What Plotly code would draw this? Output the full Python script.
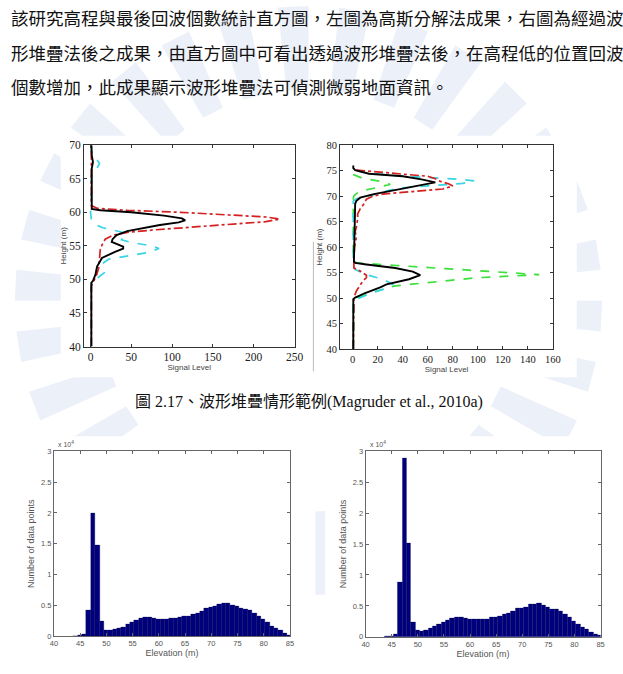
import math
import plotly.graph_objects as go

W, H = 623, 674

# ---------------- text ----------------
para_lines = [
    "該研究高程與最後回波個數統計直方圖，左圖為高斯分解法成果，右圖為經過波",
    "形堆疊法後之成果，由直方圖中可看出透過波形堆疊法後，在高程低的位置回波",
    "個數增加，此成果顯示波形堆疊法可偵測微弱地面資訊。",
]
caption = "圖 2.17、波形堆疊情形範例(Magruder et al., 2010a)"

# ---------------- left waveform plot ----------------
black_L_h = [40, 49.5, 49.8, 50.7, 51.9, 53.2, 54.1, 54.6, 54.9, 55.3, 55.6, 56.0, 56.6, 57.2, 57.6, 58.1, 58.5, 58.8, 59.1, 59.5, 60.0, 60.3, 60.5, 66.5, 67.5, 68.5, 70]
black_L_s = [1, 1, 3, 6, 8, 14, 30, 40, 40, 32, 26, 27, 32, 45, 62, 85, 108, 116, 112, 90, 50, 12, 1.5, 1.5, 3, 1.5, 1]

red_L_h = [40, 49.0, 49.8, 50.5, 51.7, 53.0, 54.5, 55.1, 56.0, 56.6, 57.0, 57.4, 57.8, 58.2, 58.6, 59.0, 59.3, 59.6, 60.0, 60.3, 60.6, 61, 70]
red_L_s = [1, 1, 4, 7, 10, 11, 12, 14, 18, 28, 45, 80, 125, 175, 215, 232, 215, 170, 110, 45, 8, 1, 1]

cyan_L_h = [40, 49.5, 49.7, 50.0, 51.0, 51.7, 52.4, 53.0, 53.5, 54.0, 54.6, 55.0, 55.5, 55.9, 56.3, 56.6, 57.0, 57.3, 57.7, 58.1, 58.5, 59.0, 60.0, 60.5, 65.4, 66.2, 66.8, 67.3, 67.8, 68.3, 70]
cyan_L_s = [1, 1, 2, 6, 17, 16, 15, 22, 45, 70, 84, 75, 50, 38, 40, 44, 40, 30, 15, 7, 3, 1, 0, 1, 1, 4, 9, 11, 8, 2, 1]

# ---------------- right waveform plot ----------------
black_R_h = [40, 49.8, 50.1, 51.0, 52.1, 52.7, 53.7, 54.5, 55.2, 55.9, 56.6, 56.9, 57.2, 62, 68.5, 69.1, 69.7, 70.4, 71.3, 72.0, 72.7, 73.3, 73.9, 74.4, 75.1, 75.5, 76]
black_R_s = [0.5, 0.5, 2, 10, 22, 27, 45, 54, 48, 34, 11, 2, 1, 1.5, 2, 3, 6, 17, 37, 50, 66, 55, 40, 13, 2, 0.5, 0.5]

red_R_h = [40, 49.5, 50.1, 51.4, 52.4, 53.3, 54.0, 54.5, 55.3, 55.9, 57, 60, 62, 63, 64, 65.5, 66.5, 67.5, 68.5, 69.4, 70.0, 70.4, 70.9, 71.4, 72.0, 72.4, 72.9, 73.4, 73.9, 74.5, 75.1, 75.5]
red_R_s = [0.5, 0.5, 1, 3, 6, 8, 11, 11, 6, 1, 1, 1.5, 3, 2, 3, 4, 4, 6, 9, 11, 16, 24, 48, 72, 80, 77, 70, 66, 60, 28, 3, 0.5]

cyan_R_h = [40, 49.5, 50.0, 51.0, 52.0, 52.7, 53.2, 53.7, 54.6, 55.6, 56.2, 69.0, 69.5, 70.0, 70.5, 71.0, 71.6, 72.0, 72.5, 73.0, 73.3, 73.6, 74.0, 74.5, 75.0, 75.4]
cyan_R_s = [0.5, 0.5, 5, 15, 28, 32, 28, 24, 11, 2, 0.5, 0.5, 3, 12, 20, 27, 37, 60, 88, 97, 85, 65, 35, 12, 3, 0.5]

green_R_h = [40, 49.5, 49.8, 50.5, 51.3, 52.4, 53.2, 54.0, 54.6, 55.0, 55.5, 55.9, 56.4, 56.9, 57.3, 69.5, 70.06, 70.5, 71.0, 71.6, 72.3, 72.9, 73.5, 74.2, 74.6]
green_R_s = [0.5, 0.5, 1, 8, 18, 34, 65, 99, 149, 125, 95, 73, 35, 3, 0.5, 0.5, 1, 3, 6, 18, 30, 22, 8, 1, 0.5]

# ---------------- histograms (x 10^4 points) ----------------
elev_bins = [44.12, 44.95, 45.78, 46.61, 47.44, 48.28, 49.11, 49.94, 50.77, 51.60,
             52.43, 53.27, 54.10, 54.93, 55.76, 56.59, 57.42, 58.26, 59.09, 59.92,
             60.75, 61.58, 62.41, 63.25, 64.08, 64.91, 65.74, 66.57, 67.40, 68.24,
             69.07, 69.90, 70.73, 71.56, 72.39, 73.23, 74.06, 74.89, 75.72, 76.55,
             77.38, 78.22, 79.05, 79.88, 80.71, 81.54, 82.37, 83.21, 84.04, 84.87]
hist_gauss = [0.005, 0.01, 0.03, 0.42, 2.00, 1.48, 0.25, 0.10, 0.09, 0.11,
              0.13, 0.15, 0.19, 0.22, 0.26, 0.30, 0.31, 0.31, 0.30, 0.28,
              0.28, 0.28, 0.29, 0.29, 0.31, 0.33, 0.33, 0.36, 0.38, 0.41,
              0.45, 0.47, 0.48, 0.52, 0.53, 0.53, 0.51, 0.49, 0.45, 0.44,
              0.42, 0.38, 0.33, 0.27, 0.22, 0.17, 0.13, 0.09, 0.05, 0.02]
hist_stack = [0.005, 0.01, 0.04, 0.88, 2.88, 1.52, 0.24, 0.10, 0.09, 0.11,
              0.14, 0.17, 0.20, 0.23, 0.27, 0.30, 0.31, 0.31, 0.30, 0.28,
              0.28, 0.28, 0.28, 0.29, 0.31, 0.32, 0.33, 0.36, 0.38, 0.42,
              0.46, 0.47, 0.48, 0.52, 0.52, 0.54, 0.51, 0.48, 0.45, 0.44,
              0.41, 0.36, 0.31, 0.26, 0.21, 0.16, 0.12, 0.08, 0.04, 0.02]
bin_width = 0.832

line_ticks_L = [0, 50, 100, 150, 200, 250]
line_ticks_R = [0, 20, 40, 60, 80, 100, 120, 140, 160]
elev_ticks = [40, 45, 50, 55, 60, 65, 70, 75, 80, 85]
count_ticks = [0, 0.5, 1, 1.5, 2, 2.5, 3]
count_ticktext = ["0", "0.5", "1", "1.5", "2", "2.5", "3"]


def px(x):
    return x / W


def py(y):
    return 1 - y / H


fig = go.Figure()

RED = "#D42020"
CYAN = "#38D4E4"
GREEN = "#3CE03C"

# left waveform
fig.add_trace(go.Scatter(x=cyan_L_s, y=cyan_L_h, mode="lines", line=dict(color=CYAN, width=1.7, dash="dash"), xaxis="x", yaxis="y"))
fig.add_trace(go.Scatter(x=red_L_s, y=red_L_h, mode="lines", line=dict(color=RED, width=1.7, dash="dashdot"), xaxis="x", yaxis="y"))
fig.add_trace(go.Scatter(x=black_L_s, y=black_L_h, mode="lines", line=dict(color="black", width=1.9), xaxis="x", yaxis="y"))

# right waveform
fig.add_trace(go.Scatter(x=green_R_s, y=green_R_h, mode="lines", line=dict(color=GREEN, width=1.7, dash="dash"), xaxis="x2", yaxis="y2"))
fig.add_trace(go.Scatter(x=cyan_R_s, y=cyan_R_h, mode="lines", line=dict(color=CYAN, width=1.7, dash="dash"), xaxis="x2", yaxis="y2"))
fig.add_trace(go.Scatter(x=red_R_s, y=red_R_h, mode="lines", line=dict(color=RED, width=1.7, dash="dashdot"), xaxis="x2", yaxis="y2"))
fig.add_trace(go.Scatter(x=black_R_s, y=black_R_h, mode="lines", line=dict(color="black", width=1.9), xaxis="x2", yaxis="y2"))

# histograms
fig.add_trace(go.Bar(x=elev_bins, y=hist_gauss, width=bin_width, marker=dict(color="#00007F", line=dict(color="#000040", width=0.3)), xaxis="x3", yaxis="y3"))
fig.add_trace(go.Bar(x=elev_bins, y=hist_stack, width=bin_width, marker=dict(color="#00007F", line=dict(color="#000040", width=0.3)), xaxis="x4", yaxis="y4"))

serif = "Liberation Serif, Times New Roman, serif"
sans = "Liberation Sans, Arial, sans-serif"


def ax_common(**kw):
    d = dict(showgrid=False, zeroline=False, showline=True, linecolor="#333333", linewidth=1,
             mirror="ticks", ticks="inside", ticklen=3, tickcolor="#333333", tickwidth=1)
    d.update(kw)
    return d


layout = dict(
    width=W, height=H, margin=dict(l=0, r=0, t=0, b=0),
    paper_bgcolor="white", plot_bgcolor="white", showlegend=False, bargap=0,
    xaxis=ax_common(domain=[px(81.7), px(296.7)], range=[-8, 250], tickvals=line_ticks_L,
                    tickfont=dict(family=serif, size=11.5, color="#222"), anchor="y",
                    title=dict(text="Signal Level", font=dict(family=sans, size=8, color="#444"), standoff=2)),
    yaxis=ax_common(domain=[py(346.7), py(141.7)], range=[40, 70], dtick=5,
                    tickfont=dict(family=serif, size=11.5, color="#222"), anchor="x",
                    title=dict(text="Height (m)", font=dict(family=sans, size=8, color="#444"), standoff=1)),
    xaxis2=ax_common(domain=[px(343.3), px(560.7)], range=[-10, 160], tickvals=line_ticks_R,
                     tickfont=dict(family=serif, size=10.5, color="#222"), anchor="y2",
                     title=dict(text="Signal Level", font=dict(family=sans, size=8, color="#444"), standoff=2)),
    yaxis2=ax_common(domain=[py(349.3), py(141.7)], range=[40, 80], dtick=5,
                     tickfont=dict(family=serif, size=10.5, color="#222"), anchor="x2",
                     title=dict(text="Height (m)", font=dict(family=sans, size=8, color="#444"), standoff=2)),
    xaxis3=ax_common(domain=[px(51), px(292)], range=[40, 85], tickvals=elev_ticks,
                     tickfont=dict(family=sans, size=7.5, color="#555"), anchor="y3", linecolor="#666", tickcolor="#666",
                     title=dict(text="Elevation (m)", font=dict(family=sans, size=9, color="#555"), standoff=1)),
    yaxis3=ax_common(domain=[py(641.7), py(453.3)], range=[0, 3], tickvals=count_ticks, ticktext=count_ticktext,
                     tickfont=dict(family=sans, size=7.5, color="#555"), anchor="x3", linecolor="#666", tickcolor="#666",
                     title=dict(text="Number of data points", font=dict(family=sans, size=9, color="#555"), standoff=4)),
    xaxis4=ax_common(domain=[px(369.3), px(609.3)], range=[40, 85], tickvals=elev_ticks,
                     tickfont=dict(family=sans, size=7.5, color="#555"), anchor="y4", linecolor="#666", tickcolor="#666",
                     title=dict(text="Elevation (m)", font=dict(family=sans, size=9, color="#555"), standoff=1)),
    yaxis4=ax_common(domain=[py(642.3), py(453.3)], range=[0, 3], tickvals=count_ticks, ticktext=count_ticktext,
                     tickfont=dict(family=sans, size=7.5, color="#555"), anchor="x4", linecolor="#666", tickcolor="#666",
                     title=dict(text="Number of data points", font=dict(family=sans, size=9, color="#555"), standoff=4)),
)
fig.update_layout(**layout)

# ---------------- watermark (faint logo rays) ----------------
shapes = []
cx, cy = 311, 300
r_in, r_out = 215, 300
n_rays = 30
for k in range(n_rays):
    a0 = math.radians(k * 360 / n_rays)
    a1 = math.radians(k * 360 / n_rays + 6)
    pts = [(cx + r_in * math.cos(a0), cy + r_in * math.sin(a0)),
           (cx + r_out * math.cos(a0), cy + r_out * math.sin(a0)),
           (cx + r_out * math.cos(a1), cy + r_out * math.sin(a1)),
           (cx + r_in * math.cos(a1), cy + r_in * math.sin(a1))]
    path = "M " + " L ".join(f"{px(x):.4f},{py(y):.4f}" for x, y in pts) + " Z"
    shapes.append(dict(type="path", xref="paper", yref="paper", path=path,
                       fillcolor="#ECF0F9", line=dict(width=0), layer="below"))

# white backgrounds of pasted chart images
for (x0, y0, x1, y1) in [(58, 132, 312, 378), (318, 132, 585, 378), (20, 438, 318, 670), (328, 438, 618, 670)]:
    shapes.append(dict(type="rect", xref="paper", yref="paper", x0=px(x0), x1=px(x1), y0=py(y1), y1=py(y0),
                       fillcolor="white", line=dict(width=0), layer="below"))
# scan edge line
shapes.append(dict(type="line", xref="paper", yref="paper", x0=px(316), x1=px(316), y0=py(372), y1=py(240),
                   line=dict(color="#BBBBBB", width=1)))
fig.update_layout(shapes=shapes)

annotations = []
for i, t in enumerate(para_lines):
    annotations.append(dict(text=t, x=px(5), y=py(12 + 35 * i), xref="paper", yref="paper",
                            xanchor="left", yanchor="middle", showarrow=False,
                            font=dict(family="Noto Sans CJK TC", size=17.5, color="#111")))
annotations.append(dict(text=caption, x=px(311), y=py(403), xref="paper", yref="paper",
                        xanchor="center", yanchor="middle", showarrow=False,
                        font=dict(family="Liberation Serif, Noto Sans CJK TC", size=16, color="#111")))
for xa in [51, 369.3]:
    annotations.append(dict(text="x 10<sup>4</sup>", x=px(xa + 2), y=py(446), xref="paper", yref="paper",
                            xanchor="left", yanchor="middle", showarrow=False,
                            font=dict(family=sans, size=7, color="#555")))
fig.update_layout(annotations=annotations)

fig.write_html("out.html")
